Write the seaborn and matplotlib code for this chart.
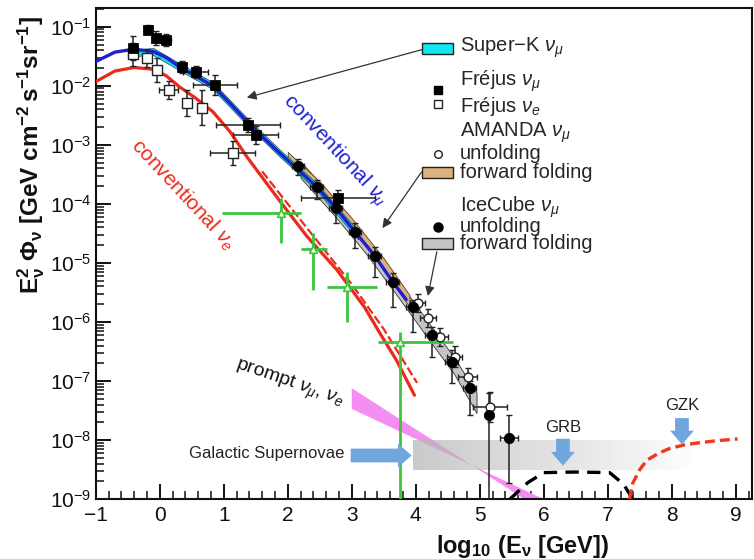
import numpy as np
import matplotlib
matplotlib.use('Agg')
import matplotlib.pyplot as plt
import seaborn as sns
from matplotlib.ticker import LogLocator, MultipleLocator, NullFormatter, FixedLocator
from matplotlib.patches import Rectangle, Polygon

# ---------------- data (log10 of E^2 Phi) ----------------
conv_mu_x = [-1, -0.7, -0.4, -0.1, 0.1, 0.31, 0.55, 0.83, 1.1, 1.36, 1.6, 1.875, 2.14, 2.45, 2.75, 3.05, 3.36, 3.64, 3.85]
conv_mu_log = [-1.59, -1.43, -1.38, -1.42, -1.52, -1.68, -1.83, -2.0, -2.3, -2.6, -2.86, -3.14, -3.40, -3.71, -4.07, -4.47, -4.88, -5.32, -5.62]

conv_e_x = [-1, -0.7, -0.4, -0.1, 0.1, 0.31, 0.55, 0.83, 1.1, 1.36, 1.6, 1.875, 2.3, 2.77, 3.2, 3.44, 3.7, 3.98]
conv_e_log = [-1.93, -1.75, -1.69, -1.72, -1.83, -2.02, -2.2, -2.44, -2.78, -3.2, -3.55, -3.95, -4.55, -5.12, -5.75, -6.19, -6.65, -7.24]

conv_e_dash_x = [1.6, 2.0, 2.5, 3.0, 3.5, 4.02]
conv_e_dash_log = [-3.45, -4.0, -4.68, -5.36, -6.12, -7.03]

superk_x = [-0.5, -0.1, 0.31, 0.83, 1.36, 1.875, 2.45, 3.1]
superk_lo = [-1.50, -1.48, -1.74, -2.06, -2.66, -3.20, -3.77, -4.60]
superk_hi = [-1.40, -1.36, -1.62, -1.94, -2.54, -3.08, -3.65, -4.46]

amanda_ff_x = [2.0, 2.5, 3.0, 3.5, 3.9]
amanda_ff_lo = [-3.30, -3.80, -4.42, -5.11, -5.74]
amanda_ff_hi = [-3.12, -3.62, -4.24, -4.92, -5.54]

icecube_ff_x = [2.2, 2.7, 3.2, 3.7, 4.2, 4.6, 4.95]
icecube_ff_lo = [-3.56, -4.16, -4.81, -5.54, -6.29, -6.88, -7.54]
icecube_ff_hi = [-3.28, -3.88, -4.53, -5.26, -6.01, -6.60, -7.20]

frejus_mu_x = [-0.42, -0.19, -0.06, 0.09, 0.34, 0.56, 0.86, 1.38, 1.5, 2.78]
frejus_mu_log = [-1.36, -1.05, -1.19, -1.22, -1.68, -1.76, -1.98, -2.66, -2.83, -3.90]
frejus_mu_xerr = [0.0, 0.0, 0.0, 0.08, 0.0, 0.2, 0.34, 0.5, 0.35, 0.58]
frejus_mu_yerr = [0.2, 0.08, 0.12, 0.1, 0.1, 0.1, 0.17, 0.12, 0.15, 0.13]

frejus_e_x = [-0.42, -0.2, -0.05, 0.14, 0.42, 0.66, 1.14]
frejus_e_log = [-1.47, -1.53, -1.73, -2.07, -2.29, -2.37, -3.14]
frejus_e_xerr = [0.0, 0.0, 0.0, 0.15, 0.0, 0.07, 0.35]
frejus_e_yerr = [0.2, 0.15, 0.2, 0.15, 0.22, 0.3, 0.2]

icecube_x = [2.16, 2.45, 2.75, 3.05, 3.36, 3.64, 3.95, 4.25, 4.56, 4.84, 5.14, 5.46]
icecube_log = [-3.36, -3.71, -4.07, -4.47, -4.88, -5.32, -5.75, -6.22, -6.68, -7.12, -7.58, -7.97]
icecube_err_lo = [0.15, 0.2, 0.25, 0.28, 0.35, 0.43, 0.42, 0.37, 0.35, 0.46, 3.0, 0.76]
icecube_err_hi = [0.12, 0.12, 0.15, 0.15, 0.15, 0.15, 0.12, 0.14, 0.2, 0.12, 0.38, 0.39]
icecube_xerr = [0.1, 0.1, 0.1, 0.1, 0.1, 0.1, 0.1, 0.1, 0.1, 0.1, 0.0, 0.14]

amanda_x = [4.03, 4.19, 4.38, 4.61, 4.81, 5.16]
amanda_log = [-5.68, -5.93, -6.25, -6.59, -6.93, -7.44]
amanda_xerr = [0.12, 0.12, 0.12, 0.12, 0.15, 0.27]
amanda_yerr = [0.15, 0.15, 0.15, 0.18, 0.15, 0.25]

green_x = [1.89, 2.39, 2.92, 3.75]
green_log = [-4.15, -4.76, -5.40, -6.34]
green_xlo = [0.91, 0.19, 0.31, 0.34]
green_xhi = [0.31, 0.22, 0.47, 0.83]
green_ylo = [0.51, 0.70, 0.60, 3.0]
green_yhi = [0.25, 0.27, 0.25, 0.17]

prompt_top_x = [3.0, 5.7]
prompt_top_log = [-7.12, -9.0]
prompt_bot_x = [3.0, 6.0]
prompt_bot_log = [-7.47, -9.0]

sn_band_x = [3.95, 8.3]
sn_band_log = [-8.51, -8.0]

grb_x = [5.47, 5.75, 6.0, 6.5, 7.03, 7.25, 7.39]
grb_log = [-9.0, -8.72, -8.55, -8.54, -8.55, -8.75, -9.0]

gzk_x = [7.34, 7.39, 7.5, 7.61, 7.8, 7.97, 8.2, 8.39, 8.7, 9.03]
gzk_log = [-9.0, -8.73, -8.5, -8.34, -8.22, -8.14, -8.08, -8.05, -8.01, -7.98]

x_ticks = [-1, 0, 1, 2, 3, 4, 5, 6, 7, 8, 9]


def p(a):
    return 10.0 ** np.asarray(a, dtype=float)


def yerr_from_log(logv, lo, hi):
    y = p(logv)
    return y, [y - p(np.asarray(logv) - np.asarray(lo)), p(np.asarray(logv) + np.asarray(hi)) - y]


# ---------------- style ----------------
sns.set_theme(style='ticks')
plt.rcParams['font.family'] = ['Liberation Sans', 'DejaVu Sans']
plt.rcParams['mathtext.fontset'] = 'custom'
plt.rcParams['mathtext.rm'] = 'Liberation Sans'
plt.rcParams['mathtext.it'] = 'Liberation Sans:italic'
plt.rcParams['mathtext.bf'] = 'Liberation Sans:bold'
plt.rcParams['axes.linewidth'] = 1.5

fig = plt.figure(figsize=(7.54, 5.59), dpi=100)
ax = fig.add_axes([0.127, 0.107, 0.870, 0.879])
ax.set_yscale('log')
ax.set_xlim(-1, 9.25)
ax.set_ylim(1e-9, 10 ** -0.68)

BLUE = '#1f1fd0'
RED = '#ec2a1c'
GREEN = '#3cc43c'

# prompt band
ax.add_patch(Polygon([(prompt_top_x[0], p(prompt_top_log[0])), (prompt_top_x[1], p(prompt_top_log[1])),
                      (prompt_bot_x[1], p(prompt_bot_log[1])), (prompt_bot_x[0], p(prompt_bot_log[0]))],
                     closed=True, facecolor='#f48ef2', edgecolor='none', zorder=1))

# galactic SN gray gradient band
nseg = 60
edges = np.linspace(sn_band_x[0], sn_band_x[1], nseg + 1)
for i in range(nseg):
    a = 0.75 * (1 - i / nseg) ** 0.9
    ax.fill_between([edges[i], edges[i + 1]], p(sn_band_log[0]), p(sn_band_log[1]),
                    color='#b8b8b8', alpha=a, lw=0, zorder=2)

# bands
ax.fill_between(icecube_ff_x, p(icecube_ff_lo), p(icecube_ff_hi), facecolor='#c4c4c4',
                edgecolor='#333333', lw=0.6, zorder=3)
ax.fill_between(amanda_ff_x, p(amanda_ff_lo), p(amanda_ff_hi), facecolor='#d9b27c',
                edgecolor='#5a4020', lw=0.6, zorder=3)
ax.fill_between(superk_x, p(superk_lo), p(superk_hi), facecolor='#10e0e8',
                edgecolor='#205050', lw=0.5, zorder=3)

# curves
sns.lineplot(x=conv_e_x, y=p(conv_e_log), ax=ax, color=RED, lw=2.3, sort=False, estimator=None, zorder=4)
sns.lineplot(x=conv_e_dash_x, y=p(conv_e_dash_log), ax=ax, color=RED, lw=1.6, ls=(0, (4, 1.5)),
             sort=False, estimator=None, zorder=4)
sns.lineplot(x=conv_mu_x, y=p(conv_mu_log), ax=ax, color=BLUE, lw=2.4, sort=False, estimator=None, zorder=4)
sns.lineplot(x=grb_x, y=p(grb_log), ax=ax, color='black', lw=2.4, ls=(0, (4, 2.5)),
             sort=False, estimator=None, zorder=4)
sns.lineplot(x=gzk_x, y=p(gzk_log), ax=ax, color='#ee3a1a', lw=2.4, ls=(0, (3, 1.5)),
             sort=False, estimator=None, zorder=4)

# error bars
ekw = dict(fmt='none', ecolor='#222222', elinewidth=1.1, capsize=2.5, capthick=1.0, zorder=5)
y, ye = yerr_from_log(frejus_e_log, frejus_e_yerr, frejus_e_yerr)
ax.errorbar(frejus_e_x, y, yerr=ye, xerr=frejus_e_xerr, **ekw)
y, ye = yerr_from_log(frejus_mu_log, frejus_mu_yerr, frejus_mu_yerr)
ax.errorbar(frejus_mu_x, y, yerr=ye, xerr=frejus_mu_xerr, **ekw)
y, ye = yerr_from_log(amanda_log, amanda_yerr, amanda_yerr)
ax.errorbar(amanda_x, y, yerr=ye, xerr=amanda_xerr, **ekw)
y, ye = yerr_from_log(icecube_log, icecube_err_lo, icecube_err_hi)
ax.errorbar(icecube_x, y, yerr=ye, xerr=icecube_xerr, **ekw)
y, ye = yerr_from_log(green_log, green_ylo, green_yhi)
ax.errorbar(green_x, y, yerr=ye, xerr=[green_xlo, green_xhi], fmt='none', ecolor=GREEN,
            elinewidth=2.0, capsize=0, zorder=5)

# markers
sns.scatterplot(x=frejus_e_x, y=p(frejus_e_log), ax=ax, marker='s', s=45, facecolor='white',
                edgecolor='#222222', linewidth=1.0, zorder=6)
sns.scatterplot(x=frejus_mu_x, y=p(frejus_mu_log), ax=ax, marker='s', s=48, color='black',
                edgecolor='black', zorder=6)
sns.scatterplot(x=amanda_x, y=p(amanda_log), ax=ax, marker='o', s=40, facecolor='white',
                edgecolor='#222222', linewidth=1.0, zorder=6)
sns.scatterplot(x=icecube_x, y=p(icecube_log), ax=ax, marker='o', s=55, color='black',
                edgecolor='black', zorder=7)
sns.scatterplot(x=green_x, y=p(green_log), ax=ax, marker='^', s=30, facecolor='white',
                edgecolor=GREEN, linewidth=1.2, zorder=7)

# ---------------- axes styling ----------------
ax.xaxis.set_major_locator(FixedLocator(x_ticks))
ax.xaxis.set_minor_locator(MultipleLocator(0.2))
ax.yaxis.set_major_locator(LogLocator(base=10, numticks=20))
ax.yaxis.set_minor_locator(LogLocator(base=10, subs=np.arange(2, 10), numticks=100))
ax.yaxis.set_minor_formatter(NullFormatter())
ax.tick_params(which='both', direction='in', top=False, right=False, colors='#111111')
ax.tick_params(axis='x', labelsize=15, pad=5)
ax.tick_params(axis='y', labelsize=15, pad=3)
ax.tick_params(which='major', length=11, width=1.4)
ax.tick_params(which='minor', length=5.5, width=1.1)
for s in ax.spines.values():
    s.set_color('#111111')

ax.set_xlabel(r'$\mathbf{log_{10}\ (E_{\nu}\ [GeV])}$', fontsize=17, color='#111111')
ax.xaxis.set_label_coords(0.65, -0.069)
ax.set_ylabel(r'$\mathbf{E_{\nu}^{2}\ \Phi_{\nu}\ [GeV\ cm^{-2}\,s^{-1}sr^{-1}]}$', fontsize=17.5, color='#111111')
ax.yaxis.set_label_coords(-0.074, 0.70)

# ---------------- annotations ----------------
ax.text(2.73, p(-3.1), r'conventional $\nu_{\mu}$', color=BLUE, fontsize=15, rotation=-47,
        ha='center', va='center', zorder=8)
ax.text(0.36, p(-3.85), r'conventional $\nu_{e}$', color=RED, fontsize=15, rotation=-47,
        ha='center', va='center', zorder=8)
ax.text(2.03, p(-7.05), r'prompt $\nu_{\mu}$, $\nu_{e}$', color='#111111', fontsize=14, rotation=-19,
        ha='center', va='center', zorder=8)
ax.text(2.89, p(-8.22), 'Galactic Supernovae', color='#222222', fontsize=12, ha='right', va='center', zorder=8)
ax.text(6.3, p(-7.78), 'GRB', color='#222222', fontsize=12, ha='center', va='center', zorder=8)
ax.text(8.16, p(-7.42), 'GZK', color='#222222', fontsize=12, ha='center', va='center', zorder=8)

bstyle = 'simple,head_length=0.55,head_width=0.95,tail_width=0.55'
ax.annotate('', xy=(3.98, p(-8.26)), xytext=(2.94, p(-8.26)),
            arrowprops=dict(arrowstyle=bstyle, mutation_scale=18, color='#6fa6de', lw=0), zorder=8)
ax.annotate('', xy=(6.3, p(-8.48)), xytext=(6.3, p(-7.93)),
            arrowprops=dict(arrowstyle=bstyle, mutation_scale=18, color='#6fa6de', lw=0), zorder=8)
ax.annotate('', xy=(8.16, p(-8.12)), xytext=(8.16, p(-7.58)),
            arrowprops=dict(arrowstyle=bstyle, mutation_scale=18, color='#6fa6de', lw=0), zorder=8)

aprops = dict(arrowstyle='-|>', color='#333333', lw=0.9, mutation_scale=14, shrinkA=0, shrinkB=0)
ax.annotate('', xy=(1.36, p(-2.20)), xytext=(4.09, p(-1.39)), arrowprops=aprops, zorder=8)
ax.annotate('', xy=(3.48, p(-4.41)), xytext=(4.09, p(-3.46)), arrowprops=aprops, zorder=8)
ax.annotate('', xy=(4.19, p(-5.56)), xytext=(4.33, p(-4.81)), arrowprops=aprops, zorder=8)

# ---------------- legend (manual, axes fraction) ----------------
T = ax.transAxes
lx_box, lw_box, lh_box = 0.497, 0.047, 0.023
lx_mark, lx_text = 0.521, 0.555
fs = 14.5
ax.add_patch(Rectangle((lx_box, 0.906), lw_box, lh_box, transform=T, facecolor='#10e8f0', edgecolor='#222222', lw=1.0, zorder=9))
ax.text(lx_text, 0.918, r'Super$-$K $\nu_{\mu}$', transform=T, fontsize=fs, va='center', zorder=9)
ax.plot([lx_mark], [0.833], transform=T, marker='s', ms=6, color='black', zorder=9)
ax.text(lx_text, 0.850, r'Fréjus $\nu_{\mu}$', transform=T, fontsize=fs, va='center', zorder=9)
ax.plot([lx_mark], [0.805], transform=T, marker='s', ms=6, mfc='white', mec='#222222', mew=1.0, zorder=9)
ax.text(lx_text, 0.800, r'Fréjus $\nu_{e}$', transform=T, fontsize=fs, va='center', zorder=9)
ax.text(lx_text, 0.745, r'AMANDA $\nu_{\mu}$', transform=T, fontsize=fs, va='center', zorder=9)
ax.plot([lx_mark], [0.703], transform=T, marker='o', ms=5.5, mfc='white', mec='#222222', mew=1.0, zorder=9)
ax.text(lx_text, 0.704, 'unfolding', transform=T, fontsize=fs, va='center', zorder=9)
ax.add_patch(Rectangle((lx_box, 0.654), lw_box, lh_box, transform=T, facecolor='#d9b27c', edgecolor='#222222', lw=1.0, zorder=9))
ax.text(lx_text, 0.665, 'forward folding', transform=T, fontsize=fs, va='center', zorder=9)
ax.text(lx_text, 0.595, r'IceCube $\nu_{\mu}$', transform=T, fontsize=fs, va='center', zorder=9)
ax.plot([lx_mark], [0.553], transform=T, marker='o', ms=6.5, color='black', zorder=9)
ax.text(lx_text, 0.554, 'unfolding', transform=T, fontsize=fs, va='center', zorder=9)
ax.add_patch(Rectangle((lx_box, 0.509), lw_box, lh_box, transform=T, facecolor='#c4c4c4', edgecolor='#222222', lw=1.0, zorder=9))
ax.text(lx_text, 0.520, 'forward folding', transform=T, fontsize=fs, va='center', zorder=9)

fig.savefig('out.png', dpi=100)
